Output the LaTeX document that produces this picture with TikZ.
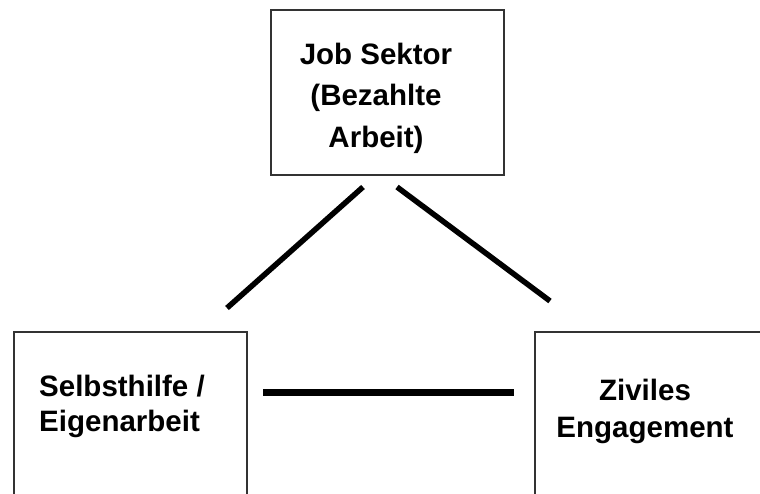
\documentclass[tikz,border=0pt]{standalone}
\usepackage{fontspec}
\setmainfont{Liberation Sans}
\begin{document}
\begin{tikzpicture}[x=1pt,y=-1pt,
  box/.style={draw=black!80, line width=2.2pt, fill=none, inner sep=0pt, anchor=north west},
  txt/.style={font=\bfseries\fontsize{29.5}{#1}\selectfont, inner sep=0pt},
  link/.style={line width=5.5pt, line cap=butt}]
\useasboundingbox (0,0) rectangle (760,493);
\clip (0,0) rectangle (760,493);
% boxes
\node[box, minimum width=233pt, minimum height=165pt] (job) at (270,9) {};
\node[box, minimum width=233.5pt, minimum height=190pt] (selbst) at (12.5,331) {};
\node[box, minimum width=270pt, minimum height=190pt] (zivil) at (534,331) {};
% texts
\node[txt=41.5, align=center, anchor=north] (jobtxt) at (376,42.5) {Job Sektor\\(Bezahlte\\Arbeit)};
\node[txt=35, align=left, anchor=north west] (selbsttxt) at (39,374.5) {Selbsthilfe /\\Eigenarbeit};
\node[txt=37, align=center, anchor=north] (ziviltxt) at (645,378.5) {Ziviles\\Engagement};
% connector ends
\coordinate (a1) at (363,187);
\coordinate (a2) at (227,308);
\coordinate (b1) at (397,187);
\coordinate (b2) at (550,301);
\coordinate (c1) at (263,392);
\coordinate (c2) at (514,392);
\draw[link] (a1) -- (a2);
\draw[link] (b1) -- (b2);
\draw[link, line width=7pt] (c1) -- (c2);
\end{tikzpicture}
\end{document}
